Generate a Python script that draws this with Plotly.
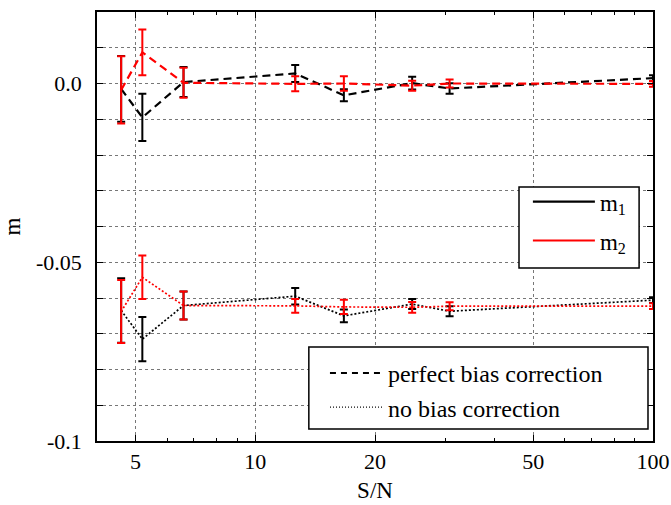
import plotly.graph_objects as go

# Data
sn = [4.6, 5.2, 6.6, 12.6, 16.7, 24.8, 30.8, 100]

m1_perfect = [-0.0015, -0.0095, 0.0004, 0.0028, -0.0033, 0.0001, -0.0014, 0.0015]
m1_perfect_err = [0.0092, 0.0066, 0.0042, 0.0024, 0.0017, 0.0018, 0.0015, 0.0008]
m2_perfect = [-0.0018, 0.0087, 0.0002, -0.0001, 0.0000, -0.0006, 0.0000, -0.0001]
m2_perfect_err = [0.0094, 0.0064, 0.0042, 0.0021, 0.0020, 0.0014, 0.0011, 0.0008]

m1_nobias = [-0.0635, -0.0715, -0.0621, -0.0595, -0.0650, -0.0617, -0.0637, -0.0606]
m1_nobias_err = [0.0090, 0.0062, 0.0039, 0.0023, 0.0018, 0.0014, 0.0014, 0.0008]
m2_nobias = [-0.0638, -0.0542, -0.0621, -0.0622, -0.0625, -0.0626, -0.0623, -0.0623]
m2_nobias_err = [0.0088, 0.0061, 0.0039, 0.0019, 0.0020, 0.0015, 0.0011, 0.0008]

x_tickvals = [5, 10, 20, 50, 100]
x_ticktext = ["5", "10", "20", "50", "100"]
x_minor = [4, 6, 7, 8, 9, 30, 40, 60, 70, 80, 90]
y_tickvals = [0.0, -0.05, -0.1]
y_ticktext = ["0.0", "-0.05", "-0.1"]

FONT = "Liberation Serif"
DASH = "8px,5px"
DOT = "2px,2px"

fig = go.Figure()


def add_series(y, err, color, dash, width):
    fig.add_trace(go.Scatter(
        x=sn, y=y, mode="lines",
        line=dict(color=color, dash=dash, width=width),
        error_y=dict(type="data", array=err, visible=True, color=color,
                     thickness=2, width=4),
        showlegend=False, hoverinfo="skip"))


add_series(m1_perfect, m1_perfect_err, "black", DASH, 2.2)
add_series(m1_nobias, m1_nobias_err, "black", DOT, 1.7)
add_series(m2_perfect, m2_perfect_err, "red", DASH, 2.2)
add_series(m2_nobias, m2_nobias_err, "red", DOT, 1.7)

# legend entries
fig.add_trace(go.Scatter(x=[None], y=[None], mode="lines", name="m<sub>1</sub>",
                         line=dict(color="black", width=2.2), legend="legend",
                         legendgroup="a"))
fig.add_trace(go.Scatter(x=[None], y=[None], mode="lines", name="m<sub>2</sub>",
                         line=dict(color="red", width=2.2), legend="legend",
                         legendgroup="b"))
fig.add_trace(go.Scatter(x=[None], y=[None], mode="lines", name="perfect bias correction",
                         line=dict(color="black", width=2.2, dash="6px,5px"),
                         legend="legend2"))
fig.add_trace(go.Scatter(x=[None], y=[None], mode="lines", name="no bias correction",
                         line=dict(color="black", width=1.2, dash="1px,2px"),
                         legend="legend2"))

# legend boxes
box = dict(type="rect", xref="paper", yref="paper",
           line=dict(color="black", width=1.5), fillcolor="white", layer="above")
shapes = [
    dict(box, x0=0.759, x1=0.975, y0=0.403, y1=0.592),
    dict(box, x0=0.381, x1=0.991, y0=0.028, y1=0.219),
]

fig.update_layout(
    width=671, height=505,
    margin=dict(l=97, r=18, t=12, b=64, autoexpand=False),
    paper_bgcolor="white", plot_bgcolor="white",
    font=dict(family=FONT, size=22, color="black"),
    shapes=shapes,
    legend=dict(x=0.775, y=0.608, xanchor="left", yanchor="top",
                borderwidth=0, bgcolor="rgba(0,0,0,0)",
                font=dict(size=23), itemwidth=62, tracegroupgap=6),
    legend2=dict(x=0.41, y=0.21, xanchor="left", yanchor="top",
                 borderwidth=0, bgcolor="rgba(0,0,0,0)",
                 font=dict(size=24), itemwidth=53),
    xaxis=dict(type="log", range=[0.602, 2.0], tickvals=x_tickvals,
               ticktext=x_ticktext, automargin=False,
               ticks="inside", ticklen=6, tickcolor="black",
               showline=True, linecolor="black", linewidth=1.5, mirror="ticks",
               showgrid=True, gridcolor="#777", griddash="dot", gridwidth=1,
               zeroline=False,
               minor=dict(tickvals=x_minor, ticks="inside", ticklen=3,
                          tickcolor="black", showgrid=False),
               title=dict(text="S/N", standoff=9, font=dict(size=23))),
    yaxis=dict(range=[-0.1, 0.02], tickvals=y_tickvals, ticktext=y_ticktext,
               automargin=False,
               ticks="inside", ticklen=6, tickcolor="black", ticklabelstandoff=9,
               showline=True, linecolor="black", linewidth=1.5, mirror="ticks",
               showgrid=True, gridcolor="#777", griddash="dot", gridwidth=1,
               zeroline=False,
               minor=dict(dtick=0.01, tick0=0, ticks="inside", ticklen=6,
                          tickcolor="black", showgrid=True, gridcolor="#777",
                          griddash="dot", gridwidth=1),
               title=dict(text="m", standoff=19, font=dict(size=23))),
)

fig.write_html("out.html", config={"displayModeBar": False},
               post_script="document.body.style.margin='0';")
